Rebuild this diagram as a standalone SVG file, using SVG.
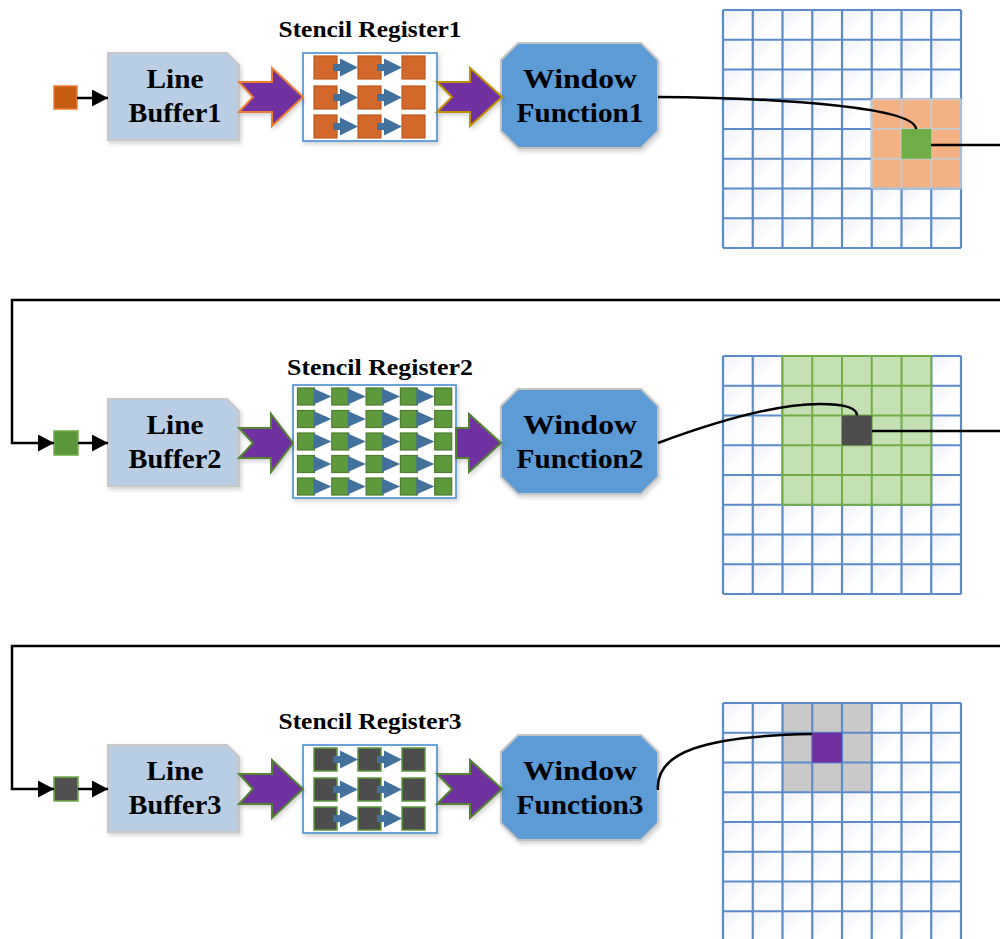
<svg xmlns="http://www.w3.org/2000/svg" xmlns:xlink="http://www.w3.org/1999/xlink" width="1000" height="939" viewBox="0 0 1000 939">
<style>
.lb{fill:#b9cde5;stroke:#c8c8c8;stroke-width:2}
.wf{fill:#5b9bd5;stroke:#c4c4c4;stroke-width:2}
.sr{fill:#ffffff;stroke:#5b9bd5;stroke-width:1.8}
.t{font-family:"Liberation Serif","Times New Roman",serif;font-weight:bold;font-size:28px;text-anchor:middle;fill:#000}
.tt{font-size:23px}
.pa{fill:#7030a0;stroke-width:2;stroke-linejoin:miter}
.conn{fill:none;stroke:#000;stroke-width:2.5}
.grid{fill:none;stroke:#5b8bc9;stroke-width:2.2}
.tri{fill:#41719c}
</style>
<defs>
<filter id="sh" x="-10%" y="-10%" width="130%" height="130%">
<feDropShadow dx="1.5" dy="2.5" stdDeviation="2" flood-color="#000" flood-opacity="0.18"/>
</filter>
<linearGradient id="cg" x1="0" y1="0" x2="1" y2="1">
<stop offset="0" stop-color="#edf0f7"/>
<stop offset="0.55" stop-color="#ffffff"/>
</linearGradient>
<pattern id="cells" patternUnits="userSpaceOnUse" width="29.75" height="29.75">
<rect width="29.75" height="29.75" fill="url(#cg)"/>
</pattern>
<marker id="ah" markerUnits="userSpaceOnUse" markerWidth="16" markerHeight="17" refX="16" refY="8.5" orient="auto">
<path d="M0,0 L16,8.5 L0,17 Z" fill="#000"/>
</marker>
<g id="st3">
<rect x="11" y="3" width="23" height="23"/><rect x="55" y="3" width="23" height="23"/><rect x="99" y="3" width="23" height="23"/>
<rect x="11" y="33" width="23" height="23"/><rect x="55" y="33" width="23" height="23"/><rect x="99" y="33" width="23" height="23"/>
<rect x="11" y="62" width="23" height="23"/><rect x="55" y="62" width="23" height="23"/><rect x="99" y="62" width="23" height="23"/>
<path class="tri" stroke="none" d="M30,11 H37 V5.5 L55,14.5 L37,23.5 V18 H30Z M74,11 H81 V5.5 L99,14.5 L81,23.5 V18 H74Z M30,41 H37 V35.5 L55,44.5 L37,53.5 V48 H30Z M74,41 H81 V35.5 L99,44.5 L81,53.5 V48 H74Z M30,70 H37 V64.5 L55,73.5 L37,82.5 V77 H30Z M74,70 H81 V64.5 L99,73.5 L81,82.5 V77 H74Z"/>
</g>
<g id="gl">
<rect x="0" y="0" width="238" height="238" fill="url(#cells)"/>
</g>
<path id="glines" d="M0,0V238 M29.75,0V238 M59.5,0V238 M89.25,0V238 M119,0V238 M148.75,0V238 M178.5,0V238 M208.25,0V238 M238,0V238 M0,0H238 M0,29.75H238 M0,59.5H238 M0,89.25H238 M0,119H238 M0,148.75H238 M0,178.5H238 M0,208.25H238 M0,238H238"/>
</defs>
<rect width="1000" height="939" fill="#ffffff"/>

<!-- Row 1 nodes -->
<g id="src1"><rect x="54" y="86" width="23" height="23" fill="#c55a11" stroke="#ed7d31" stroke-width="1.5"/></g>
<g id="lb1">
<polygon class="lb" filter="url(#sh)" points="108,53 227,53 239,65 239,140 108,140"/>
<text class="t" x="175" y="88" textLength="57" lengthAdjust="spacingAndGlyphs">Line</text>
<text class="t" x="175" y="122" textLength="93" lengthAdjust="spacingAndGlyphs">Buffer1</text>
</g>
<g id="sr1">
<text class="t tt" x="370" y="37" textLength="183" lengthAdjust="spacingAndGlyphs">Stencil Register1</text>
<rect class="sr" filter="url(#sh)" x="303" y="53" width="134" height="88"/>
<use xlink:href="#st3" x="303" y="53" fill="#d2692a" stroke="#c0581c" stroke-width="1.2"/>
</g>
<g id="wf1">
<polygon class="wf" filter="url(#sh)" points="518,43 641,43 658,60 658,131 641,148 518,148 501,131 501,60"/>
<text class="t" x="580" y="88" textLength="114" lengthAdjust="spacingAndGlyphs">Window</text>
<text class="t" x="580" y="122" textLength="127" lengthAdjust="spacingAndGlyphs">Function1</text>
</g>
<g id="grid1">
<use xlink:href="#gl" x="723" y="10"/>
<use xlink:href="#glines" x="723" y="10" class="grid"/>
<rect x="871.75" y="99.25" width="89.25" height="89.25" fill="#f4b183"/>
<path d="M901.5,99.25V188.5 M931.25,99.25V188.5 M871.75,129H961 M871.75,158.75H961 M871.75,99.25H961 M871.75,99.25V188.5" fill="none" stroke="#c9c9c9" stroke-width="2"/>
<path d="M961,99.25V188.5 M871.75,188.5H961" fill="none" stroke="#a9c0dd" stroke-width="2"/>
<rect x="901.5" y="129" width="29.75" height="29.75" fill="#70ad47"/>
</g>

<!-- Row 2 nodes -->
<g id="src2"><rect x="54" y="431" width="24" height="24" fill="#5b963b" stroke="#70ad47" stroke-width="1.5"/></g>
<g id="lb2">
<polygon class="lb" filter="url(#sh)" points="108,399 227,399 239,411 239,486 108,486"/>
<text class="t" x="175" y="434" textLength="57" lengthAdjust="spacingAndGlyphs">Line</text>
<text class="t" x="175" y="468" textLength="93" lengthAdjust="spacingAndGlyphs">Buffer2</text>
</g>
<g id="sr2">
<text class="t tt" x="380" y="375" textLength="186" lengthAdjust="spacingAndGlyphs">Stencil Register2</text>
<rect class="sr" filter="url(#sh)" x="293" y="385" width="163" height="113"/>
<g fill="#5e9a3c" stroke="#4d7d2e" stroke-width="1.2">
<rect x="297.5" y="388" width="17" height="17"/><rect x="331.8" y="388" width="17" height="17"/><rect x="366.1" y="388" width="17" height="17"/><rect x="400.4" y="388" width="17" height="17"/><rect x="434.7" y="388" width="17" height="17"/>
<rect x="297.5" y="410.5" width="17" height="17"/><rect x="331.8" y="410.5" width="17" height="17"/><rect x="366.1" y="410.5" width="17" height="17"/><rect x="400.4" y="410.5" width="17" height="17"/><rect x="434.7" y="410.5" width="17" height="17"/>
<rect x="297.5" y="433" width="17" height="17"/><rect x="331.8" y="433" width="17" height="17"/><rect x="366.1" y="433" width="17" height="17"/><rect x="400.4" y="433" width="17" height="17"/><rect x="434.7" y="433" width="17" height="17"/>
<rect x="297.5" y="455.5" width="17" height="17"/><rect x="331.8" y="455.5" width="17" height="17"/><rect x="366.1" y="455.5" width="17" height="17"/><rect x="400.4" y="455.5" width="17" height="17"/><rect x="434.7" y="455.5" width="17" height="17"/>
<rect x="297.5" y="478" width="17" height="17"/><rect x="331.8" y="478" width="17" height="17"/><rect x="366.1" y="478" width="17" height="17"/><rect x="400.4" y="478" width="17" height="17"/><rect x="434.7" y="478" width="17" height="17"/>
</g>
<g class="tri" transform="translate(293,385)">
<path d="M20.5,3.5 L38.5,11.5 L20.5,19.5Z M54.8,3.5 L72.8,11.5 L54.8,19.5Z M89.1,3.5 L107.1,11.5 L89.1,19.5Z M123.4,3.5 L141.4,11.5 L123.4,19.5Z"/>
<path d="M20.5,26 L38.5,34 L20.5,42Z M54.8,26 L72.8,34 L54.8,42Z M89.1,26 L107.1,34 L89.1,42Z M123.4,26 L141.4,34 L123.4,42Z"/>
<path d="M20.5,48.5 L38.5,56.5 L20.5,64.5Z M54.8,48.5 L72.8,56.5 L54.8,64.5Z M89.1,48.5 L107.1,56.5 L89.1,64.5Z M123.4,48.5 L141.4,56.5 L123.4,64.5Z"/>
<path d="M20.5,71 L38.5,79 L20.5,87Z M54.8,71 L72.8,79 L54.8,87Z M89.1,71 L107.1,79 L89.1,87Z M123.4,71 L141.4,79 L123.4,87Z"/>
<path d="M20.5,93.5 L38.5,101.5 L20.5,109.5Z M54.8,93.5 L72.8,101.5 L54.8,109.5Z M89.1,93.5 L107.1,101.5 L89.1,109.5Z M123.4,93.5 L141.4,101.5 L123.4,109.5Z"/>
</g>
</g>
<g id="wf2">
<polygon class="wf" filter="url(#sh)" points="518,389 641,389 658,406 658,477 641,494 518,494 501,477 501,406"/>
<text class="t" x="580" y="434" textLength="114" lengthAdjust="spacingAndGlyphs">Window</text>
<text class="t" x="580" y="468" textLength="127" lengthAdjust="spacingAndGlyphs">Function2</text>
</g>
<g id="grid2">
<use xlink:href="#gl" x="723" y="356"/>
<use xlink:href="#glines" x="723" y="356" class="grid"/>
<rect x="782.5" y="356" width="148.75" height="148.75" fill="#c5e0b4"/>
<path d="M782.5,356V504.75 M812.25,356V504.75 M842,356V504.75 M871.75,356V504.75 M901.5,356V504.75 M931.25,356V504.75 M782.5,356H931.25 M782.5,385.75H931.25 M782.5,415.5H931.25 M782.5,445.25H931.25 M782.5,475H931.25 M782.5,504.75H931.25" fill="none" stroke="#70ad47" stroke-width="2"/>
<rect x="842" y="415.5" width="29.75" height="29.75" fill="#4d4d4d"/>
</g>

<!-- Row 3 nodes -->
<g id="src3"><rect x="54" y="777" width="24" height="24" fill="#505050" stroke="#70ad47" stroke-width="1.5"/></g>
<g id="lb3">
<polygon class="lb" filter="url(#sh)" points="108,745 227,745 239,757 239,832 108,832"/>
<text class="t" x="175" y="780" textLength="57" lengthAdjust="spacingAndGlyphs">Line</text>
<text class="t" x="175" y="814" textLength="93" lengthAdjust="spacingAndGlyphs">Buffer3</text>
</g>
<g id="sr3">
<text class="t tt" x="370" y="729" textLength="183" lengthAdjust="spacingAndGlyphs">Stencil Register3</text>
<rect class="sr" filter="url(#sh)" x="303" y="745" width="134" height="88"/>
<use xlink:href="#st3" x="303" y="745" fill="#4d4d4d" stroke="#5b9a3a" stroke-width="1.5"/>
</g>
<g id="wf3">
<polygon class="wf" filter="url(#sh)" points="518,735 641,735 658,752 658,823 641,840 518,840 501,823 501,752"/>
<text class="t" x="580" y="780" textLength="114" lengthAdjust="spacingAndGlyphs">Window</text>
<text class="t" x="580" y="814" textLength="127" lengthAdjust="spacingAndGlyphs">Function3</text>
</g>
<g id="grid3">
<use xlink:href="#gl" x="723" y="703"/>
<rect x="782.5" y="703" width="89.25" height="89.25" fill="#c9c9c9"/>
<use xlink:href="#glines" x="723" y="703" class="grid"/>
<rect x="812.25" y="732.75" width="29.75" height="29.75" fill="#7030a0"/>
</g>

<!-- Connectors -->
<g id="connectors">
<polygon class="pa" stroke="#ed7d31" filter="url(#sh)" points="239,82 272,82 272,68 303,97 272,126 272,112 239,112 253,97"/>
<polygon class="pa" stroke="#bf9000" filter="url(#sh)" points="437,82 470,82 470,68 502,97 470,126 470,112 437,112 452,97"/>
<polygon class="pa" stroke="#548235" filter="url(#sh)" points="239,428 271,428 271,414 293,443 271,472 271,458 239,458 253,443"/>
<polygon class="pa" stroke="#548235" filter="url(#sh)" points="456,428 469,428 469,414 501,443 469,472 469,458 456,458"/>
<polygon class="pa" stroke="#548235" filter="url(#sh)" points="239,774 272,774 272,760 303,789 272,818 272,804 239,804 253,789"/>
<polygon class="pa" stroke="#548235" filter="url(#sh)" points="437,774 470,774 470,760 502,789 470,818 470,804 437,804 452,789"/>

<path class="conn" d="M77,98 H108" marker-end="url(#ah)"/>
<path class="conn" d="M658,97 C790,98 915,108 916,129"/>
<path class="conn" d="M931,145 H1000"/>
<path class="conn" d="M1000,300 H12 V443 H54" marker-end="url(#ah)"/>
<path class="conn" d="M78,443 H108" marker-end="url(#ah)"/>
<path class="conn" d="M658,443 C720,420 780,404 820,404 C850,404 857,410 857,415.5"/>
<path class="conn" d="M872,431 H1000"/>
<path class="conn" d="M1000,646 H12 V789 H54" marker-end="url(#ah)"/>
<path class="conn" d="M78,789 H108" marker-end="url(#ah)"/>
<path class="conn" d="M658,790 C655,752 705,736 812,734"/>
</g>
</svg>
